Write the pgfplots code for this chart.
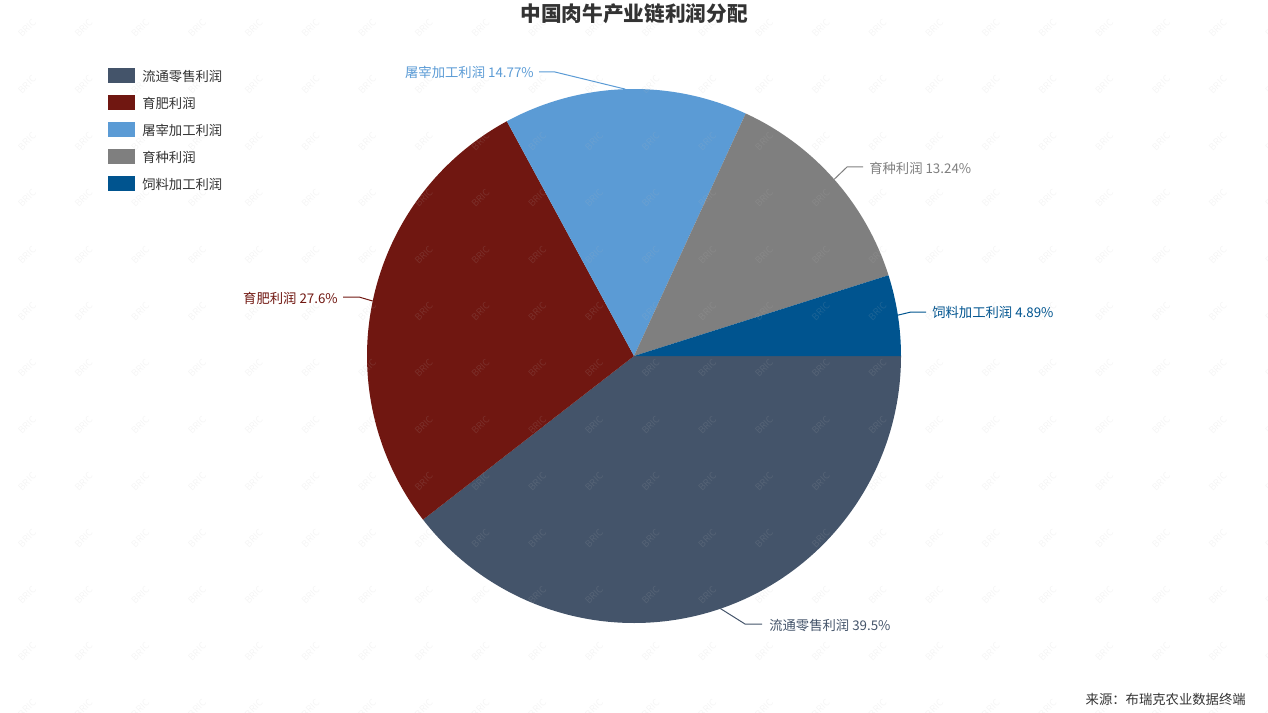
\documentclass[border=0pt]{standalone}
\usepackage{pgfplots}
\usepackage{pgfplotstable}
\pgfplotsset{compat=1.18}
\usepackage{fontspec}
\setmainfont{Noto Sans CJK SC}

% slice colours, in table order
\definecolor{c0}{HTML}{44546A}
\definecolor{c1}{HTML}{701711}
\definecolor{c2}{HTML}{5B9BD5}
\definecolor{c3}{HTML}{7F7F7F}
\definecolor{c4}{HTML}{00548F}
\definecolor{textgray}{HTML}{333333}
\definecolor{markgray}{HTML}{BBBBBB}

\newcommand\lbl{\fontsize{10}{12}\selectfont}
% "name value%" of slice #1
\newcommand\slicelabel[1]{\csname nm#1\endcsname\ \csname val#1\endcsname\%}

\pgfplotstableread[col sep=comma]{
name,value
流通零售利润,39.5
育肥利润,27.6
屠宰加工利润,14.77
育种利润,13.24
饲料加工利润,4.89
}\pietable

\begin{document}
\begin{tikzpicture}
% start, end and middle angle of every slice (clockwise from east)
\gdef\cum{0}
\foreach \i in {0,...,4}{%
  \pgfplotstablegetelem{\i}{value}\of\pietable
  \let\v\pgfplotsretval
  \expandafter\xdef\csname val\i\endcsname{\v}%
  \pgfplotstablegetelem{\i}{name}\of\pietable
  \expandafter\xdef\csname nm\i\endcsname{\pgfplotsretval}%
  \pgfmathsetmacro\s{-3.6*\cum}%
  \pgfmathsetmacro\nc{\cum+\v}%
  \pgfmathsetmacro\e{-3.6*\nc}%
  \pgfmathsetmacro\m{(\s+\e)/2}%
  \expandafter\xdef\csname sa\i\endcsname{\s}%
  \expandafter\xdef\csname ea\i\endcsname{\e}%
  \expandafter\xdef\csname ma\i\endcsname{\m}%
  \xdef\cum{\nc}%
}
\begin{axis}[
  x=0.75pt, y=0.75pt,
  xmin=0, xmax=1268, ymin=0, ymax=713,
  y dir=reverse,
  hide axis, clip=false,
]
\coordinate (TL) at (axis cs:0,0);
\coordinate (BR) at (axis cs:1268,713);
\coordinate (C) at (axis cs:634,356);

% pie slices
\pgfplotsinvokeforeach{0,...,4}{
  \fill[c#1] (C) -- ++(\csname sa#1\endcsname:200.25pt)
     arc[start angle=\csname sa#1\endcsname, end angle=\csname ea#1\endcsname, radius=200.25pt] -- cycle;
  % legend entries
  \fill[c#1] (axis cs:107.5,{68+27*#1}) rectangle (axis cs:134.5,{83+27*#1});
  \node[anchor=west, inner sep=0pt, text=textgray, font=\lbl] at (axis cs:142,{76+27*#1}) {\csname nm#1\endcsname};
}

% leader lines and slice labels
\draw[c0, line width=0.75pt] (C) ++(\csname ma0\endcsname:200.25pt) -- (axis cs:745,624) -- (axis cs:762,624);
\node[anchor=west, inner sep=0pt, text=c0, font=\lbl] at (axis cs:769,625) {\slicelabel{0}};
\draw[c1, line width=0.75pt] (C) ++(\csname ma1\endcsname:200.25pt) -- (axis cs:359,297) -- (axis cs:343,297);
\node[anchor=east, inner sep=0pt, text=c1, font=\lbl] at (axis cs:338,298) {\slicelabel{1}};
\draw[c2, line width=0.75pt] (C) ++(\csname ma2\endcsname:200.25pt) -- (axis cs:555,72) -- (axis cs:539,72);
\node[anchor=east, inner sep=0pt, text=c2, font=\lbl] at (axis cs:534,72) {\slicelabel{2}};
\draw[c3, line width=0.75pt] (C) ++(\csname ma3\endcsname:200.25pt) -- (axis cs:847,167) -- (axis cs:863,167);
\node[anchor=west, inner sep=0pt, text=c3, font=\lbl] at (axis cs:869,168) {\slicelabel{3}};
\draw[c4, line width=0.75pt] (C) ++(\csname ma4\endcsname:200.25pt) -- (axis cs:911,312) -- (axis cs:926,312);
\node[anchor=west, inner sep=0pt, text=c4, font=\lbl] at (axis cs:932,312) {\slicelabel{4}};

% title and source
\node[text=textgray, font=\bfseries\fontsize{15.5}{18}\selectfont] at (axis cs:634,14) {中国肉牛产业链利润分配};
\node[anchor=east, inner sep=0pt, text=textgray, font=\lbl] at (axis cs:1246,699) {来源：布瑞克农业数据终端};
\end{axis}

% watermark
\begin{scope}[shift={(TL)}, x=0.75pt, y=-0.75pt]
\foreach \i in {0,...,22}{
  \foreach \j in {0,...,12}{
    \node[rotate=45, text=markgray, text opacity=0.15, inner sep=0pt,
          font=\fontsize{7}{8}\selectfont] at ({27+56.7*\i},{28+56.7*\j}) {BRIC};
  }
}
\end{scope}
\pgfresetboundingbox
\useasboundingbox (TL) rectangle (BR);
\end{tikzpicture}
\end{document}
